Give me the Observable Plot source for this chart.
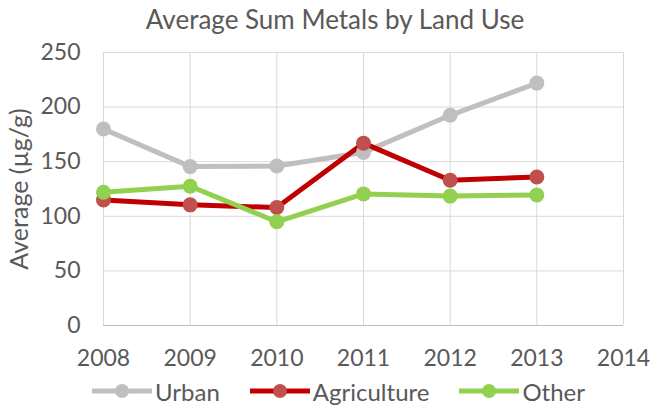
<!DOCTYPE html>
<html>
<head>
<meta charset="utf-8">
<script src="https://cdn.jsdelivr.net/npm/d3@7"></script>
<script src="https://cdn.jsdelivr.net/npm/@observablehq/plot@0.6"></script>
<style>
  html, body { margin: 0; padding: 0; background: #fff; }
  body { width: 664px; height: 411px; overflow: hidden; font-family: Lato, "Open Sans", sans-serif; color: #595959; }
  #title { height: 36px; line-height: 38px; text-align: center; font-size: 26px; padding-left: 6px; }
  #legend { display: flex; align-items: center; height: 40px; font-size: 24px; padding-left: 92px; }
  .item { display: flex; align-items: center; margin-right: 30px; }
  .item svg { margin-right: 3px; }
</style>
</head>
<body>
<div id="title">Average Sum Metals by Land Use</div>
<div id="chart"></div>
<div id="legend"></div>
<script>
const years = [2008, 2009, 2010, 2011, 2012, 2013];
const urban = [180, 145.5, 146, 158.5, 192.5, 222];
const agriculture = [115, 110.5, 108, 167, 133, 136];
const other = [122, 127.5, 95, 120.5, 118.5, 119.5];
const seriesNames = ["Urban", "Agriculture", "Other"];
const lineColors = ["#BFBFBF", "#C00000", "#92D050"];
const dotColors = ["#BFBFBF", "#C0504D", "#92D050"];
const yTicks = [0, 50, 100, 150, 200, 250];
const xTicks = [2008, 2009, 2010, 2011, 2012, 2013, 2014];

const seriesValues = [urban, agriculture, other];
const data = seriesNames.flatMap((s, i) => years.map((y, j) => ({series: s, year: y, value: seriesValues[i][j]})));

const chart = Plot.plot({
  width: 664,
  height: 335,
  marginLeft: 103,
  marginRight: 41,
  marginTop: 16,
  marginBottom: 46,
  style: {fontFamily: "Lato, 'Open Sans', sans-serif", fontSize: "23px", color: "#595959"},
  x: {domain: [2008, 2014], ticks: xTicks, tickFormat: "d", label: null},
  y: {domain: [0, 250], ticks: yTicks, label: "Average (µg/g)"},
  marks: [
    Plot.gridY(yTicks, {stroke: "#d9d9d9", strokeOpacity: 1}),
    Plot.gridX(xTicks, {stroke: "#d9d9d9", strokeOpacity: 1}),
    Plot.ruleY([0], {stroke: "#bfbfbf"}),
    Plot.axisY({ticks: [], tickSize: 0, label: "Average (µg/g)", labelAnchor: "center", labelArrow: "none", labelOffset: 93, fontSize: 25}),
    Plot.axisY({ticks: yTicks, tickSize: 0, tickPadding: 23, label: null, fontSize: 23}),
    Plot.axisX({ticks: xTicks, tickFormat: "d", tickSize: 0, tickPadding: 24, label: null, fontSize: 23}),
    Plot.line(data, {x: "year", y: "value", z: "series", stroke: d => lineColors[seriesNames.indexOf(d.series)], strokeWidth: 5}),
    Plot.dot(data, {x: "year", y: "value", r: 7.5, fill: d => dotColors[seriesNames.indexOf(d.series)], stroke: "none"})
  ]
});
document.getElementById("chart").appendChild(chart);

const legend = document.getElementById("legend");
seriesNames.forEach((s, i) => {
  const item = document.createElement("div");
  item.className = "item";
  item.innerHTML = `<svg width="60" height="16"><line x1="0" x2="60" y1="8" y2="8" stroke="${lineColors[i]}" stroke-width="5"/><circle cx="30" cy="8" r="7" fill="${dotColors[i]}"/></svg><span>${s}</span>`;
  legend.appendChild(item);
});
</script>
</body>
</html>
